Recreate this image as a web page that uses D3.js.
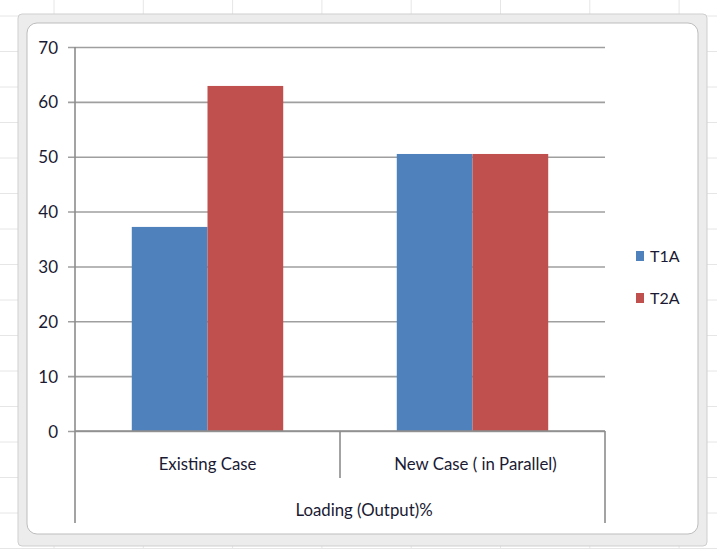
<!DOCTYPE html>
<html><head><meta charset="utf-8">
<script src="https://cdn.jsdelivr.net/npm/d3@7"></script>
<style>body{margin:0;background:#fff}svg{display:block}</style>
</head><body><svg id="c" width="717" height="549"></svg>
<script>
const categories = ["Existing Case", "New Case ( in Parallel)"];
const seriesNames = ["T1A", "T2A"];
const t1a = [37.2, 50.5];
const t2a = [62.9, 50.5];
const yTicks = [0, 10, 20, 30, 40, 50, 60, 70];
const axisTitle = "Loading (Output)%";
const colors = ["#4F81BD", "#C0504D"];

(function(){
const svg = d3.select("#c");
const W = 717, H = 549;
const font = "Lato, 'Open Sans', sans-serif";
const txt = "#1a1a33";

// spreadsheet background lines
const bg = svg.append("g");
d3.range(-36, W, 89.3).forEach(x => bg.append("line").attr("x1", x+90).attr("x2", x+90).attr("y1", 0).attr("y2", H).attr("stroke", "#e6e6e6"));
d3.range(16, H, 35.5).forEach(yy => bg.append("line").attr("x1", 0).attr("x2", W).attr("y1", yy).attr("y2", yy).attr("stroke", "#e6e6e6"));

// chart frame
svg.append("rect").attr("x", 18).attr("y", 14).attr("width", 689).attr("height", 532).attr("rx", 4)
  .attr("fill", "#ececec").attr("stroke", "#cfcfcf");
svg.append("rect").attr("x", 27).attr("y", 23).attr("width", 671).attr("height", 511).attr("rx", 10)
  .attr("fill", "#fff").attr("stroke", "#bdbdbd");

const pL = 75, pR = 605, pT = 47, pB = 431;
const x0 = d3.scaleBand().domain(categories).range([pL, pR]).paddingInner(0).paddingOuter(0);
const x1 = d3.scaleBand().domain(seriesNames).range([0, x0.bandwidth()]).paddingInner(0).paddingOuter(0.75);
const y = d3.scaleLinear().domain([0, 70]).range([pB, pT]);

// gridlines
const yAxis = d3.axisLeft(y).tickValues(yTicks).tickSize(-(pR - pL)).tickPadding(10).tickSizeOuter(0);
const gy = svg.append("g").attr("transform", `translate(${pL},0)`).call(yAxis);
gy.select(".domain").remove();
gy.selectAll(".tick line").attr("stroke", "#9f9f9f").attr("stroke-width", 1.6).attr("x1", -7);
gy.selectAll(".tick text").attr("x", -17).attr("dy", "0.36em").attr("font-family", font).attr("font-size", 17).attr("fill", txt);

// bars
const data = categories.map((c, i) => ({c, vals: [t1a[i], t2a[i]]}));
const gb = svg.append("g");
data.forEach(d => {
  d.vals.forEach((v, j) => {
    gb.append("rect")
      .attr("x", x0(d.c) + x1(seriesNames[j]))
      .attr("y", y(v))
      .attr("width", x1.bandwidth())
      .attr("height", y(0) - y(v))
      .attr("fill", colors[j]);
  });
});

// axes lines
const ax = svg.append("g").attr("stroke", "#8c8c8c").attr("stroke-width", 1.6);
ax.append("line").attr("x1", pL).attr("x2", pL).attr("y1", pT).attr("y2", 523);
ax.append("line").attr("x1", pR).attr("x2", pR).attr("y1", pB).attr("y2", 523);
ax.append("line").attr("x1", pL).attr("x2", pR).attr("y1", pB).attr("y2", pB);
ax.append("line").attr("x1", x0(categories[1])).attr("x2", x0(categories[1])).attr("y1", pB).attr("y2", 478);

// category labels
categories.forEach(c => {
  svg.append("text").attr("x", x0(c) + x0.bandwidth()/2 + (c === categories[1] ? 3 : 0)).attr("y", 470)
    .attr("text-anchor", "middle").attr("font-family", font).attr("font-size", 16.8).attr("fill", txt).text(c);
});
svg.append("text").attr("x", 364).attr("y", 516).attr("text-anchor", "middle")
  .attr("font-family", font).attr("font-size", 16.8).attr("fill", txt).text(axisTitle);

// legend
seriesNames.forEach((s, i) => {
  const ly = 256 + i * 42;
  svg.append("rect").attr("x", 636).attr("y", ly - 5).attr("width", 8).attr("height", 10).attr("fill", colors[i]);
  svg.append("text").attr("x", 650).attr("y", ly).attr("dy", "0.36em").attr("font-family", font)
    .attr("font-size", 16).attr("fill", txt).text(s);
});
})();
</script></body></html>
